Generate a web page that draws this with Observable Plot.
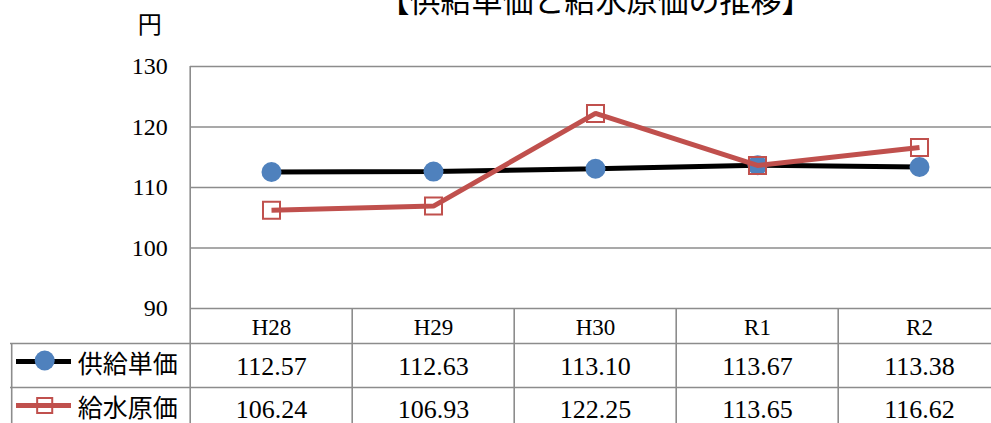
<!DOCTYPE html>
<html>
<head>
<meta charset="utf-8">
<script src="https://cdn.jsdelivr.net/npm/d3@7"></script>
<script src="https://cdn.jsdelivr.net/npm/@observablehq/plot@0.6"></script>
<style>
  html, body { margin: 0; padding: 0; background: #fff; overflow: hidden; }
  #chart svg { display: block; overflow: hidden; }
</style>
</head>
<body>
<div id="chart"></div>
<script>
// ---- data ----
const title = "【供給単価と給水原価の推移】";
const unitLabel = "円";
const categories = ["H28", "H29", "H30", "R1", "R2"];
const seriesNames = ["供給単価", "給水原価"];
const supplyPrice = [112.57, 112.63, 113.10, 113.67, 113.38];
const waterCost = [106.24, 106.93, 122.25, 113.65, 116.62];
const yTicks = [90, 100, 110, 120, 130];

const rows = categories.map((c, i) => ({cat: c, supply: supplyPrice[i], cost: waterCost[i]}));

// ---- layout ----
const W = 991, H = 423;
const mTop = 66, mBottom = 115, mLeft = 10;
const xRange = [188.5, 1001.5];
const bw = (xRange[1] - xRange[0]) / categories.length;
const firstCenter = xRange[0] + bw / 2;
const px = (p) => p - firstCenter;          // dx relative to first band centre
const base = H - mBottom;                     // pixel of y = 90
const py = (p) => p - base;                   // dy relative to y = 90
const yMin = d3.min(yTicks), yMax = d3.max(yTicks);

const serif = "'Liberation Serif', 'Noto Sans CJK JP', serif";
const cjk = "'Noto Sans CJK JP', sans-serif";
const grid = "#8c8c8c";
const blue = "#4F81BD", red = "#C0504D";
const first = () => categories[0];
const last = () => categories[categories.length - 1];
const atBase = () => yMin;
const atTop = () => yMax;

const chart = Plot.plot({
  width: W, height: H,
  marginTop: mTop, marginBottom: mBottom, marginLeft: mLeft, marginRight: 0,
  x: {type: "band", domain: categories, range: xRange, padding: 0, axis: null},
  y: {domain: [yMin, yMax], axis: null},
  style: {background: "#fff"},
  marks: [
    // horizontal gridlines in plot area
    Plot.ruleY(yTicks, {y: d => d, x1: first, x2: last, insetRight: -bw, stroke: grid, strokeWidth: 1.6}),
    // table horizontal lines
    Plot.ruleY([yMin], {y: d => d, dy: py(343), stroke: grid, strokeWidth: 1.6}),
    Plot.ruleY([yMin], {y: d => d, dy: py(387), stroke: grid, strokeWidth: 1.6}),
    // plot left border (through table)
    Plot.ruleX([categories[0]], {x: d => d, dx: -bw / 2, y1: atTop, y2: atBase, insetBottom: -mBottom, stroke: grid, strokeWidth: 1.6}),
    // table column separators
    Plot.ruleX(categories.slice(1), {x: d => d, dx: -bw / 2, y1: atBase, y2: atBase, insetBottom: -mBottom, stroke: grid, strokeWidth: 1.6}),
    // legend column left border
    Plot.ruleX([categories[0]], {x: d => d, dx: px(10), y1: atBase, y2: atBase, insetTop: 343 - base, insetBottom: -mBottom, stroke: grid, strokeWidth: 1.6}),

    // y tick labels
    Plot.text(yTicks, {x: first, y: d => d, dx: px(166), text: d => String(d), textAnchor: "end", fontSize: 24, fontFamily: serif, fill: "#000"}),
    // unit label
    Plot.text([unitLabel], {x: first, y: atTop, dx: px(148), dy: 25 - mTop, text: d => d, fontSize: 24, fontFamily: cjk, fill: "#000"}),
    // title
    Plot.text([title], {x: () => categories[2], y: atTop, dy: 2 - mTop, text: d => d, fontSize: 31, fontFamily: cjk, fill: "#000"}),

    // series 1
    Plot.line(rows, {x: "cat", y: "supply", stroke: "#000", strokeWidth: 5, strokeLinejoin: "miter", strokeLinecap: "butt"}),
    Plot.dot(rows, {x: "cat", y: "supply", r: 10, fill: blue, stroke: "none"}),
    // series 2
    Plot.line(rows, {x: "cat", y: "cost", stroke: red, strokeWidth: 5, strokeLinejoin: "miter", strokeLinecap: "butt"}),
    Plot.dot(rows, {x: "cat", y: "cost", symbol: "square", r: 9.6, fill: "none", stroke: red, strokeWidth: 2}),

    // table header
    Plot.text(categories, {x: d => d, y: atBase, dy: py(327), text: d => d, fontSize: 23, fontFamily: serif, fill: "#000"}),
    // table values
    Plot.text(rows, {x: "cat", y: atBase, dy: py(366), text: d => d.supply.toFixed(2), fontSize: 26, fontFamily: serif, fill: "#000"}),
    Plot.text(rows, {x: "cat", y: atBase, dy: py(409), text: d => d.cost.toFixed(2), fontSize: 26, fontFamily: serif, fill: "#000"}),

    // legend entries
    Plot.ruleY([yMin], {y: d => d, dy: py(361), insetLeft: 16 - mLeft, insetRight: W - 71, stroke: "#000", strokeWidth: 5}),
    Plot.dot([seriesNames[0]], {x: first, y: atBase, dx: px(43), dy: py(360), r: 10, fill: blue, stroke: "none"}),
    Plot.ruleY([yMin], {y: d => d, dy: py(405), insetLeft: 16 - mLeft, insetRight: W - 71, stroke: red, strokeWidth: 5}),
    Plot.dot([seriesNames[1]], {x: first, y: atBase, dx: px(43), dy: py(405), symbol: "square", r: 8.5, fill: "none", stroke: red, strokeWidth: 2}),
    Plot.text([seriesNames[0]], {x: first, y: atBase, dx: px(76), dy: py(364), text: d => d, textAnchor: "start", fontSize: 25, fontFamily: cjk, fill: "#000"}),
    Plot.text([seriesNames[1]], {x: first, y: atBase, dx: px(76), dy: py(408), text: d => d, textAnchor: "start", fontSize: 25, fontFamily: cjk, fill: "#000"})
  ]
});
document.getElementById("chart").appendChild(chart);
</script>
</body>
</html>
